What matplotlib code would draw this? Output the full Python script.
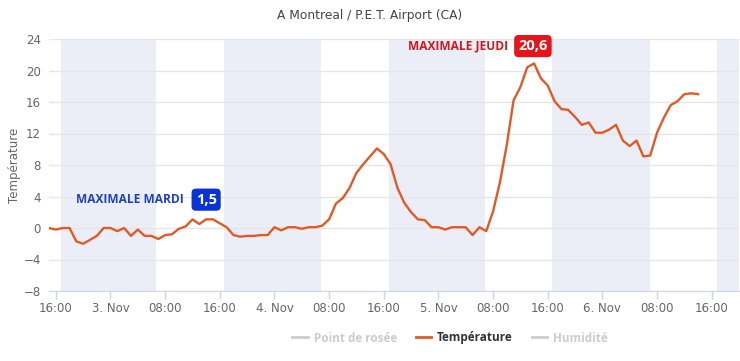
import pandas as pd
import numpy as np
import matplotlib.pyplot as plt
import matplotlib.dates as mdates
from matplotlib.lines import Line2D

title = 'A Montreal / P.E.T. Airport (CA)'
start = '2020-11-02 15:00'

# hourly temperature readings (deg C)
temps = [0.0, -0.2, 0.0, 0.0, -1.7, -2.0, -1.5, -1.0, 0.0, 0.0,
         -0.4, 0.0, -1.0, -0.2, -1.0, -1.0, -1.4, -0.9, -0.8, -0.1,
         0.2, 1.1, 0.5, 1.1, 1.1, 0.6, 0.1, -0.9, -1.1, -1.0,
         -1.0, -0.9, -0.9, 0.1, -0.3, 0.1, 0.1, -0.1, 0.1, 0.1,
         0.3, 1.1, 3.1, 3.8, 5.1, 7.0, 8.1, 9.1, 10.1, 9.4,
         8.1, 5.1, 3.2, 2.0, 1.1, 1.0, 0.1, 0.1, -0.2, 0.1,
         0.1, 0.1, -0.9, 0.1, -0.4, 2.1, 5.8, 10.5, 16.2, 17.9,
         20.4, 20.9, 19.0, 18.1, 16.1, 15.1, 15.0, 14.1, 13.1, 13.4,
         12.1, 12.1, 12.5, 13.1, 11.1, 10.4, 11.1, 9.1, 9.2, 12.1,
         14.0, 15.6, 16.1, 17.0, 17.1, 17.0]

# night bands (sunset, sunrise)
nights = [('2020-11-02 16:45', '2020-11-03 06:40'),
          ('2020-11-03 16:38', '2020-11-04 06:48'),
          ('2020-11-04 16:45', '2020-11-05 06:48'),
          ('2020-11-05 16:37', '2020-11-06 06:57'),
          ('2020-11-06 16:47', '2020-11-06 22:00')]

tick_labels = ['16:00', '3. Nov', '08:00', '16:00', '4. Nov', '08:00', '16:00',
               '5. Nov', '08:00', '16:00', '6. Nov', '08:00', '16:00']

max_labels = ['MAXIMALE MARDI', 'MAXIMALE JEUDI']
max_values = ['1,5', '20,6']
max_colors = ['#0a33d6', '#e5151b']
max_text_colors = ['#1c3fc4', '#d9141c']
max_box_times = ['2020-11-03 14:00', '2020-11-05 13:50']
max_label_times = ['2020-11-03 10:40', '2020-11-05 10:10']
max_y = [3.6, 23.1]

line_color = '#e05a26'
grid_color = '#e6e6e6'
axis_color = '#ccd6eb'
band_color = '#ebeef6'


def visualize():
    times = pd.date_range(start, periods=len(temps), freq='h')
    fig = plt.figure(figsize=(7.4, 3.61), dpi=100)
    ax = fig.add_axes([49 / 740, 70 / 361, 690 / 740, 252 / 361])

    for a, b in nights:
        ax.axvspan(pd.Timestamp(a), pd.Timestamp(b), color=band_color, lw=0, zorder=0)

    ax.plot(times, temps, color=line_color, lw=1.7, zorder=3, solid_joinstyle='round')

    ax.set_ylim(-8, 24)
    ax.set_yticks(np.arange(-8, 25, 4))
    ax.set_xlim(pd.Timestamp(start), pd.Timestamp('2020-11-06 20:00'))
    ticks = pd.date_range('2020-11-02 16:00', periods=len(tick_labels), freq='8h')
    ax.set_xticks(ticks)
    ax.set_xticklabels(tick_labels)

    ax.grid(axis='y', color=grid_color, lw=1, zorder=1)
    ax.set_axisbelow(True)
    for s in ['top', 'right', 'left']:
        ax.spines[s].set_visible(False)
    ax.spines['bottom'].set_color(axis_color)
    ax.tick_params(axis='x', colors=axis_color, length=6, width=1, labelcolor='#666666',
                   labelsize=8.5, pad=2)
    ax.tick_params(axis='y', length=0, labelcolor='#666666', labelsize=8.5, pad=6)
    ax.set_ylabel('Température', color='#666666', fontsize=8.5)
    ax.yaxis.set_label_coords(-0.041, 0.5)

    fig.text(0.5, 1 - 15 / 361, title, ha='center', va='center', fontsize=8.8, color='#444444')

    for i in range(len(max_labels)):
        ax.text(pd.Timestamp(max_label_times[i]), max_y[i], max_labels[i], ha='right', va='center',
                fontsize=8.6, fontweight='bold', color=max_text_colors[i], family='Open Sans', zorder=5)
        ax.text(pd.Timestamp(max_box_times[i]), max_y[i], max_values[i], ha='center', va='center',
                fontsize=10.5, fontweight='bold', color='white', family='Open Sans', zorder=5,
                bbox=dict(boxstyle='round,pad=0.28,rounding_size=0.3', fc=max_colors[i], ec='none'))

    handles = [Line2D([], [], color='#cccccc', lw=2),
               Line2D([], [], color=line_color, lw=2),
               Line2D([], [], color='#cccccc', lw=2)]
    leg = fig.legend(handles, ['Point de rosée', 'Température', 'Humidité'], loc='center',
                     bbox_to_anchor=(450 / 740, 1 - 338 / 361), ncol=3, frameon=False,
                     handlelength=1.3, handletextpad=0.5, columnspacing=1.6,
                     prop={'family': 'Open Sans', 'weight': 'bold', 'size': 8.5})
    for t, c in zip(leg.get_texts(), ['#cccccc', '#333333', '#cccccc']):
        t.set_color(c)

    fig.savefig('out.png', dpi=100)


def main():
    visualize()


if __name__ == "__main__":
    main()
